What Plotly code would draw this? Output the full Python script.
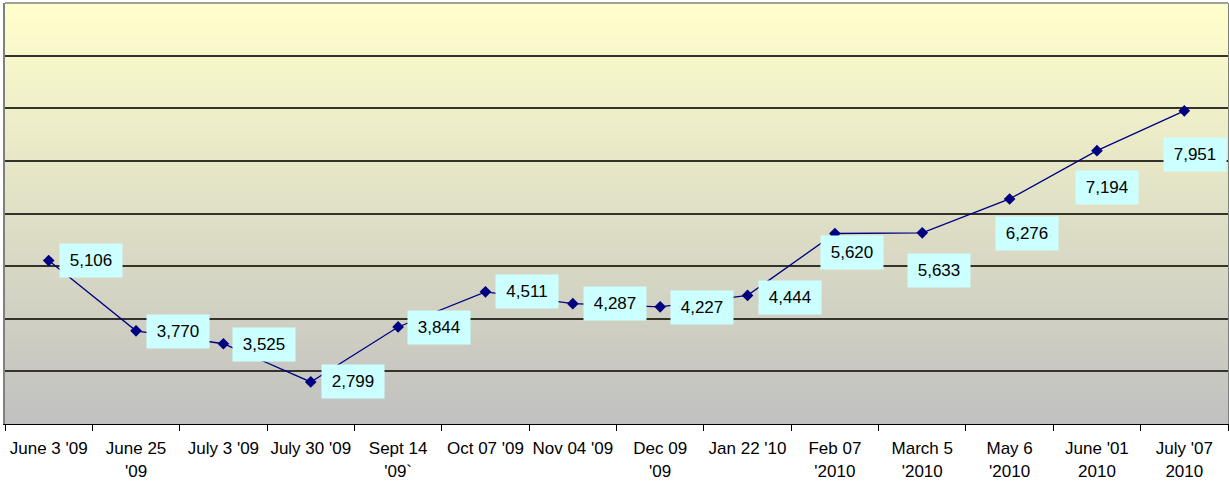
import plotly.graph_objects as go

categories = ["June 3 '09", "June 25<br>'09", "July 3 '09", "July 30 '09", "Sept 14<br>'09`",
              "Oct 07 '09", "Nov 04 '09", "Dec 09<br>'09", "Jan 22 '10", "Feb 07<br>'2010",
              "March 5<br>'2010", "May 6<br>'2010", "June '01<br>2010", "July '07<br>2010"]
values = [5106, 3770, 3525, 2799, 3844, 4511, 4287, 4227, 4444, 5620, 5633, 6276, 7194, 7951]

# label offsets (pixels) for the data label boxes
label_dx = [42, 42, 41, 42, 41, 42, 42, 42, 42, 17, 17, 17, 10, 11]
label_dy = [0, -1, -1, 0, -1, 0, 0, -1, -2, -19, -38, -35, -37, -44]

fig = go.Figure()
fig.add_trace(go.Scatter(
    x=categories, y=values, mode="lines+markers",
    line=dict(color="#000080", width=1.3),
    marker=dict(symbol="diamond", size=9, color="#000080"),
    cliponaxis=False, hoverinfo="x+y", showlegend=False))

for c, v, dx, dy in zip(categories, values, label_dx, label_dy):
    fig.add_annotation(x=c, y=v, text=f"{v:,}", showarrow=False, xanchor="center", yanchor="middle",
                       xshift=dx, yshift=dy, bgcolor="#CCFFFF", width=62, height=33, borderpad=0,
                       font=dict(family="Liberation Sans, Arial", size=17, color="black"))

# vertical gradient background
shapes = []
n = 120
top = (255, 255, 204)
bot = (192, 192, 192)
for i in range(n):
    t = (i + 0.5) / n
    col = tuple(round(top[k] + (bot[k] - top[k]) * t) for k in range(3))
    y1 = 1 - i / n
    y0 = 1 - (i + 1) / n
    shapes.append(dict(type="rect", xref="paper", yref="paper", x0=0, x1=1, y0=y0 - 0.002, y1=y1,
                       fillcolor="rgb(%d,%d,%d)" % col, line=dict(width=0), layer="below"))
shapes.append(dict(type="line", xref="paper", yref="paper", x0=0, x1=1, y0=1, y1=1,
                   line=dict(color="#808080", width=1.5), layer="above"))
fig.update_layout(shapes=shapes)

fig.update_layout(
    width=1229, height=489,
    margin=dict(l=5, r=1, t=3, b=65, autoexpand=False),
    paper_bgcolor="white", plot_bgcolor="rgba(0,0,0,0)",
    font=dict(family="Liberation Sans, Arial", size=17, color="black"),
    xaxis=dict(type="category", range=[-0.5, 13.5], tickson="boundaries", ticks="outside", ticklen=6,
               tickcolor="black", showline=True, linecolor="black", linewidth=1, showgrid=False,
               tickangle=0, automargin=False, ticklabelstandoff=9,
               tickfont=dict(size=17, color="black"), fixedrange=True),
    yaxis=dict(range=[2000, 10000], tickvals=[3000, 4000, 5000, 6000, 7000, 8000, 9000],
               showticklabels=False, showgrid=True, gridcolor="#33332b", gridwidth=1.5,
               showline=True, linecolor="#808080", linewidth=1.5, mirror=True, automargin=False,
               zeroline=False, fixedrange=True),
)

fig.write_html("out.html", config={"displayModeBar": False},
               post_script="document.body.style.margin='0';document.body.style.overflow='hidden';")
